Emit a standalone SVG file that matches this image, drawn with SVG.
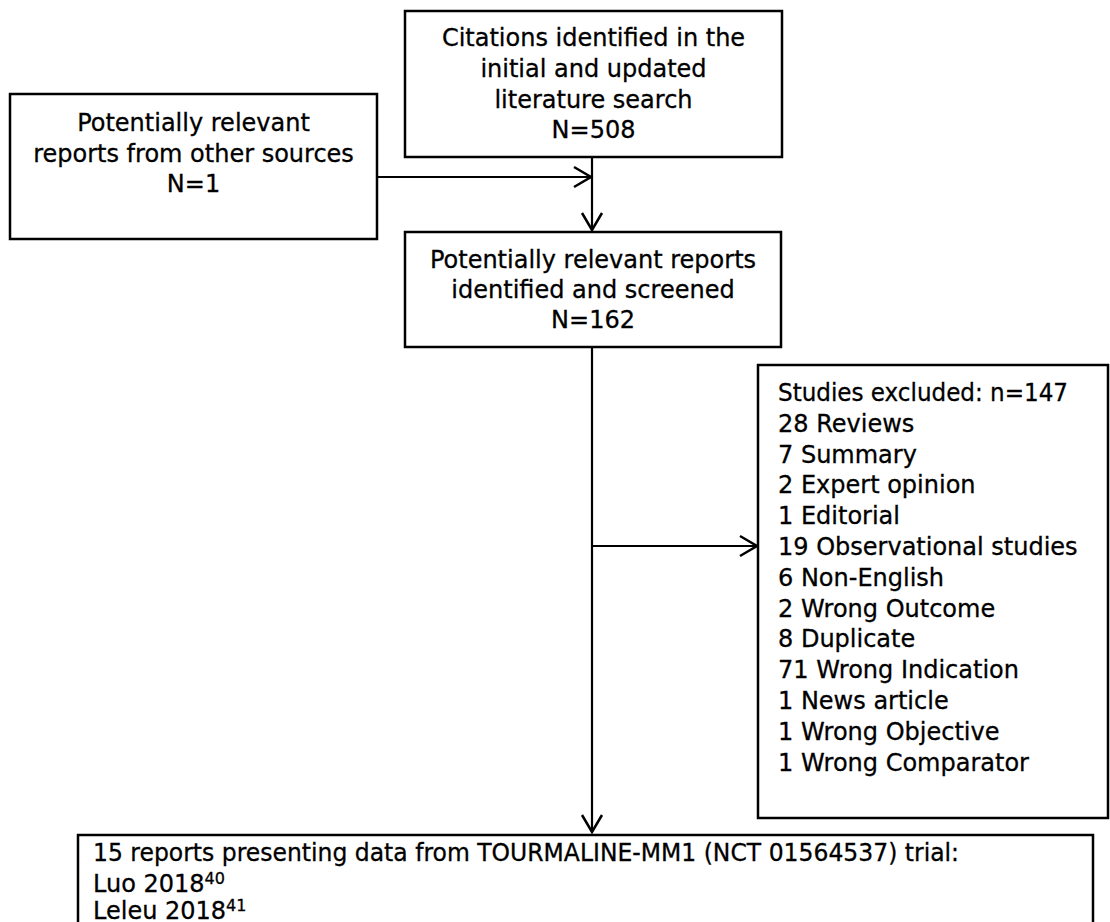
<svg xmlns="http://www.w3.org/2000/svg" width="1110" height="922" viewBox="0 0 1110 922">
  <style>
    .box { fill: #ffffff; stroke: #000000; stroke-width: 2.5; }
    .t { font-family: "DejaVu Sans", Verdana, "Liberation Sans", sans-serif; font-size: 24px; fill: #000000; stroke: #000000; stroke-width: 0.3; }
    .c { text-anchor: middle; }
    .sup { font-size: 16px; }
    .conn { fill: none; stroke: #000000; stroke-width: 2.2; }
  </style>
  <defs>
    <marker id="arrow" markerUnits="userSpaceOnUse" viewBox="-20 -12 24 24" refX="0" refY="0" markerWidth="24" markerHeight="24" orient="auto">
      <path d="M-17,-10 L0,0 L-17,10" fill="none" stroke="#000000" stroke-width="2.5"/>
    </marker>
  </defs>
  <rect x="0" y="0" width="1110" height="922" fill="#ffffff"/>

  <g id="connectors">
    <path class="conn" d="M377,177 H591" marker-end="url(#arrow)"/>
    <path class="conn" d="M592,157 V230" marker-end="url(#arrow)"/>
    <path class="conn" d="M592,347 V832" marker-end="url(#arrow)"/>
    <path class="conn" d="M592,546 H757" marker-end="url(#arrow)"/>
  </g>

  <g id="node-citations">
    <rect class="box" x="405" y="11" width="377" height="146"/>
    <text class="t c" x="593.5" y="45.5">Citations identified in the</text>
    <text class="t c" x="593.5" y="76.5">initial and updated</text>
    <text class="t c" x="593.5" y="107.5">literature search</text>
    <text class="t c" x="593.5" y="138">N=508</text>
  </g>

  <g id="node-other-sources">
    <rect class="box" x="10" y="94" width="367" height="145"/>
    <text class="t c" x="193.5" y="130.7">Potentially relevant</text>
    <text class="t c" x="193.5" y="161.5">reports from other sources</text>
    <text class="t c" x="193.5" y="191.7">N=1</text>
  </g>

  <g id="node-screened">
    <rect class="box" x="405" y="232" width="376" height="115"/>
    <text class="t c" x="593" y="268">Potentially relevant reports</text>
    <text class="t c" x="593" y="298">identified and screened</text>
    <text class="t c" x="593" y="328">N=162</text>
  </g>

  <g id="node-excluded">
    <rect class="box" x="758" y="365" width="350" height="453"/>
    <text class="t" x="778" y="401" textLength="290" lengthAdjust="spacingAndGlyphs">Studies excluded: n=147</text>
    <text class="t" x="778" y="431.8">28 Reviews</text>
    <text class="t" x="778" y="462.6">7 Summary</text>
    <text class="t" x="778" y="493.4">2 Expert opinion</text>
    <text class="t" x="778" y="524.2">1 Editorial</text>
    <text class="t" x="778" y="555">19 Observational studies</text>
    <text class="t" x="778" y="585.8">6 Non-English</text>
    <text class="t" x="778" y="616.6">2 Wrong Outcome</text>
    <text class="t" x="778" y="647.4">8 Duplicate</text>
    <text class="t" x="778" y="678.2">71 Wrong Indication</text>
    <text class="t" x="778" y="709">1 News article</text>
    <text class="t" x="778" y="739.8">1 Wrong Objective</text>
    <text class="t" x="778" y="770.6">1 Wrong Comparator</text>
  </g>

  <g id="node-included">
    <rect class="box" x="78" y="835" width="1015" height="100"/>
    <text class="t" x="93" y="861" textLength="866" lengthAdjust="spacingAndGlyphs">15 reports presenting data from TOURMALINE-MM1 (NCT 01564537) trial:</text>
    <text class="t" x="93" y="892">Luo 2018<tspan class="sup" dy="-8">40</tspan></text>
    <text class="t" x="93" y="919">Leleu 2018<tspan class="sup" dy="-8">41</tspan></text>
  </g>
</svg>
